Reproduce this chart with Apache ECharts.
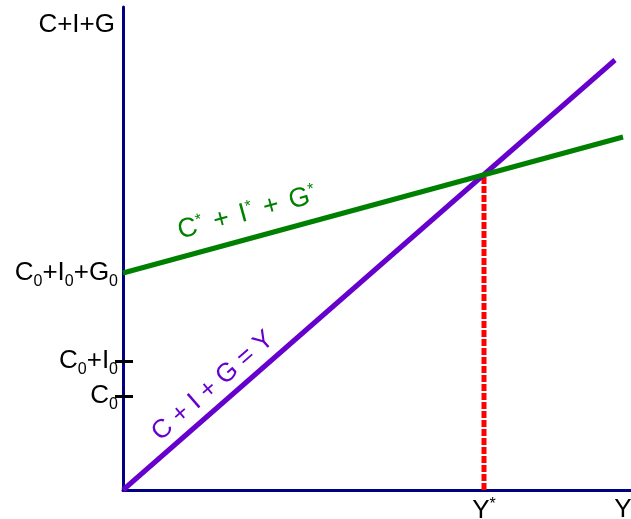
<!DOCTYPE html>
<html>
<head>
<meta charset="utf-8">
<script src="https://cdn.jsdelivr.net/npm/echarts@6/dist/echarts.min.js"></script>
<style>
html,body{margin:0;padding:0;background:#fff;}
#main{width:631px;height:519px;}
</style>
</head>
<body>
<div id="main"></div>
<script>
// keynesian cross, units are arbitrary (x 0..508, y 0..483)
var purpleLine=[[0,0],[492,430]];      // C + I + G = Y
var greenLine=[[0,217],[500,353]];     // C* + I* + G*
var yStar=361;
var eqLine=[[yStar,0],[yStar,315]];

var yTickVals=[94,129];
var yLabelVals=[94,129,217];
var yLabelTexts=['{m|C}{s|0}','{m|C}{s|0}{m|+I}{s|0}','{m|C}{s|0}{m|+I}{s|0}{m|+G}{s|0}'];
var xLabelVals=[yStar,500];
var xLabelTexts=['{m|Y}{u|*}','{m|Y}'];

// where the rotated line labels sit (data coords)
var greenNote=[124,277];
var purpleNote=[90,104];

var font="'Liberation Sans', Arial, sans-serif";
var navy='#000080';

var rich={
    m:{fontSize:26,fontFamily:font,color:'#000'},
    s:{fontSize:16,fontFamily:font,color:'#000',padding:[18,0,0,0]},
    u:{fontSize:16,fontFamily:font,color:'#000',padding:[0,0,12,0]}
};

var myChart=echarts.init(document.getElementById('main'));

var option={
    animation:false,
    backgroundColor:'#fff',
    grid:{left:123,right:0,top:7,bottom:29,containLabel:false,outerBoundsMode:'none'},
    xAxis:{
        type:'value',min:0,max:508,
        axisLine:{lineStyle:{color:navy,width:3}},
        axisTick:{show:false},
        splitLine:{show:false},
        axisLabel:{
            customValues:xLabelVals,
            margin:7,
            formatter:function(v){return xLabelTexts[xLabelVals.indexOf(v)];},
            rich:rich
        }
    },
    yAxis:[{
        type:'value',min:0,max:483,
        name:'C+I+G',
        nameLocation:'end',
        nameGap:-18,
        nameTextStyle:{fontSize:26,fontFamily:font,color:'#000',align:'right',verticalAlign:'middle',padding:[0,8,0,0]},
        axisLine:{lineStyle:{color:navy,width:3}},
        axisTick:{customValues:yTickVals,length:8,lineStyle:{color:'#000',width:3}},
        splitLine:{show:false},
        axisLabel:{
            customValues:yLabelVals,
            margin:5,
            formatter:function(v){return yLabelTexts[yLabelVals.indexOf(v)];},
            rich:rich
        }
    },{
        type:'value',min:0,max:483,position:'left',
        axisLine:{show:false},
        axisTick:{customValues:yTickVals,inside:true,length:10,lineStyle:{color:'#000',width:3}},
        axisLabel:{show:false},
        splitLine:{show:false}
    }],
    series:[{
        type:'line',data:eqLine,symbol:'none',
        lineStyle:{color:'#ff0000',width:5,type:[7,2]}
    },{
        type:'line',data:purpleLine,symbol:'none',
        lineStyle:{color:'#6600cc',width:5}
    },{
        type:'line',data:greenLine,symbol:'none',
        lineStyle:{color:'#008000',width:5}
    }]
};
myChart.setOption(option);

function angleOf(line){
    var a=myChart.convertToPixel({gridIndex:0},line[0]);
    var b=myChart.convertToPixel({gridIndex:0},line[1]);
    return Math.atan2(a[1]-b[1],b[0]-a[0]);
}
var gp=myChart.convertToPixel({gridIndex:0},greenNote);
var pp=myChart.convertToPixel({gridIndex:0},purpleNote);

myChart.setOption({
    graphic:[{
        type:'text',x:gp[0],y:gp[1],rotation:angleOf(greenLine),
        style:{
            text:'{m|C}{u|*}{p|+}{m|I}{u|*}{p|+}{m|G}{u|*}',
            align:'center',verticalAlign:'middle',
            rich:{
                m:{fontSize:27,fontFamily:font,fill:'#008000'},
                p:{fontSize:27,fontFamily:font,fill:'#008000',padding:[0,11,0,11]},
                u:{fontSize:16,fontFamily:font,fill:'#008000',padding:[0,0,12,0]}
            }
        }
    },{
        type:'text',x:pp[0],y:pp[1],rotation:angleOf(purpleLine),
        style:{
            text:'C + I + G = Y',
            font:'26px '+font,
            fill:'#6600cc',
            align:'center',verticalAlign:'middle'
        }
    }]
});
</script>
</body>
</html>
